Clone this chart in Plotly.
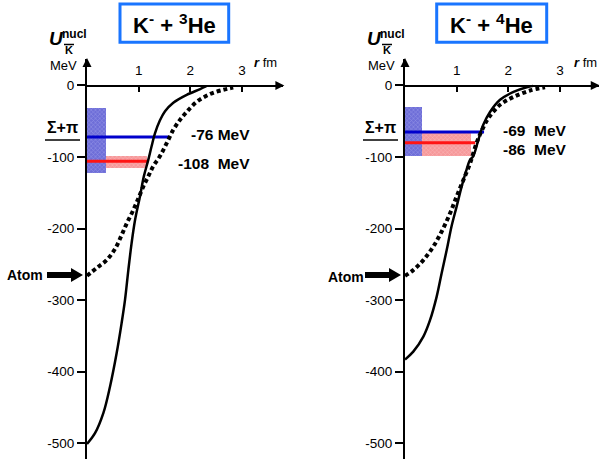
import plotly.graph_objects as go

# ---------------- data ----------------
# K- + 3He : nuclear potential (solid) and atomic-side potential (dotted)
he3_solid_r = [0, 0.155, 0.316, 0.445, 0.574, 0.67, 0.735, 0.8, 0.864, 0.93, 1.025, 1.1, 1.186,
               1.25, 1.315, 1.41, 1.51, 1.67, 1.93, 2.19, 2.31]
he3_solid_U = [-501, -486, -458, -421, -374, -332, -300, -258, -220, -188, -155, -127, -104,
               -85, -67, -49, -36, -24, -13, -5, -1]
he3_dot_r = [0, 0.187, 0.38, 0.545, 0.67, 0.768, 0.896, 0.993, 1.09, 1.186, 1.28, 1.41, 1.54,
             1.67, 1.8, 1.93, 2.12, 2.38, 2.64, 2.83]
he3_dot_U = [-266, -255, -244, -228, -209, -193, -174, -158, -141, -127, -113, -99, -81,
             -62, -48, -37, -23, -12, -6, -3]

# K- + 4He
he4_solid_r = [0, 0.16, 0.355, 0.484, 0.613, 0.71, 0.807, 0.9, 1.0, 1.097, 1.19, 1.258, 1.32,
               1.42, 1.515, 1.645, 1.84, 2.1, 2.355, 2.48]
he4_solid_U = [-383, -372, -351, -328, -295, -262, -230, -197, -169, -141, -118, -104, -99,
               -76, -55, -37, -20, -9, -2.5, -0.5]
he4_dot_r = [0, 0.16, 0.355, 0.548, 0.71, 0.87, 1.0, 1.13, 1.258, 1.387, 1.48, 1.61, 1.84,
             2.1, 2.42, 2.71]
he4_dot_U = [-266, -258, -244, -225, -204, -179, -155, -132, -109, -80, -64, -46, -27,
             -16, -7, -2.5]

# bound-state levels (line energy, line end radius) and labels
he3_level_E = [-72, -106]
he3_level_rmax = [1.57, 1.17]
he3_level_labels = ["-76 MeV", "-108\u00a0 MeV"]
he4_level_E = [-65, -80]
he4_level_rmax = [1.53, 1.36]
he4_level_labels = ["-69\u00a0 MeV", "-86\u00a0 MeV"]

# Sigma+pi box [r0, r1, U0, U1] and width band of the lower level
he3_sigma_box = [0, 0.36, -122, -31]
he3_width_band = [0.36, 1.16, -116, -98]
he4_sigma_box = [0, 0.33, -98, -30]
he4_width_band = [0.33, 1.28, -98, -64]

atom_U = -265
titles = ["K<sup>-</sup> + <sup>3</sup>He", "K<sup>-</sup> + <sup>4</sup>He"]
y_tickvals = [0, -100, -200, -300, -400, -500]
y_ticktext = ["0", "-100", "-200", "-300", "-400", "-500"]
x_tickvals = [1, 2, 3]
x_ticktext = ["1", "2", "3"]

# ---------------- layout helpers ----------------
W, H = 599, 462
FONT = "Liberation Sans, Arial, Helvetica, sans-serif"
BLUE = "#0000cc"
RED = "#ff1414"
SCALE_X = 51.67          # px per fm
Y0_PX, SCALE_Y = 85.5, 0.7155   # pixel of U=0, px per MeV


def px(x):
    return x / W


def py(y):
    return 1 - y / H


def paper_path(points):
    return "M " + " L ".join(f"{px(x):.5f},{py(y):.5f}" for x, y in points) + " Z"


fig = go.Figure()

panels = [
    dict(xa="x", ya="y", axis_px=87, xmax=3.8, solid=(he3_solid_r, he3_solid_U), dot=(he3_dot_r, he3_dot_U),
         E=he3_level_E, rmax=he3_level_rmax, labels=he3_level_labels, box=he3_sigma_box, band=he3_width_band,
         lab_right=252, lab_y=[135, 163.5], title=titles[0], title_box=(120, 228.7),
         rfm=(265, 62), atom=(25, 275)),
    dict(xa="x2", ya="y2", axis_px=405, xmax=3.75, solid=(he4_solid_r, he4_solid_U), dot=(he4_dot_r, he4_dot_U),
         E=he4_level_E, rmax=he4_level_rmax, labels=he4_level_labels, box=he4_sigma_box, band=he4_width_band,
         lab_right=569, lab_y=[130, 149], title=titles[1], title_box=(436.7, 546.7),
         rfm=(585, 62), atom=(346, 277)),
]

shapes = []
annotations = []


def band_trace(box, xa, ya, bg, fg):
    return go.Bar(x=[(box[0] + box[1]) / 2], y=[box[3] - box[2]], base=[box[2]], width=[box[1] - box[0]],
                  xaxis=xa, yaxis=ya, showlegend=False, hoverinfo="skip",
                  marker=dict(color=bg, line=dict(width=0),
                              pattern=dict(shape="x", fgcolor=fg, bgcolor=bg, size=3, solidity=0.35)))


for p in panels:
    xa, ya = p["xa"], p["ya"]
    a = p["axis_px"]
    # bands
    fig.add_trace(band_trace(p["band"], xa, ya, "#f6989a", "#ffd0d0"))
    fig.add_trace(band_trace(p["box"], xa, ya, "#6e6ed8", "#b4b4f2"))
    # level lines
    for E, rm, col in zip(p["E"], p["rmax"], [BLUE, RED]):
        fig.add_trace(go.Scatter(x=[0, rm], y=[E, E], mode="lines", xaxis=xa, yaxis=ya,
                                 line=dict(color=col, width=3), showlegend=False, hoverinfo="skip"))
    # curves
    fig.add_trace(go.Scatter(x=p["dot"][0], y=p["dot"][1], mode="lines", xaxis=xa, yaxis=ya,
                             line=dict(color="black", width=4, dash="4px,3px", shape="spline"),
                             showlegend=False, hoverinfo="skip"))
    fig.add_trace(go.Scatter(x=p["solid"][0], y=p["solid"][1], mode="lines", xaxis=xa, yaxis=ya,
                             line=dict(color="black", width=2.5, shape="spline"),
                             showlegend=False, hoverinfo="skip"))
    # axis arrow heads (paper-space triangles)
    tip_x = a + p["xmax"] * SCALE_X
    shapes.append(dict(type="path", xref="paper", yref="paper",
                       path=paper_path([(tip_x + 1, Y0_PX), (tip_x - 8, Y0_PX - 4.5), (tip_x - 8, Y0_PX + 4.5)]),
                       fillcolor="black", line=dict(width=0)))
    tip_y = Y0_PX - 37 * SCALE_Y
    shapes.append(dict(type="path", xref="paper", yref="paper",
                       path=paper_path([(a, tip_y - 1), (a - 4.5, tip_y + 8), (a + 4.5, tip_y + 8)]),
                       fillcolor="black", line=dict(width=0)))
    # atom block arrow
    ay = Y0_PX - atom_U * SCALE_Y
    tip = a - 4
    shapes.append(dict(type="path", xref="paper", yref="paper",
                       path=paper_path([(tip - 36, ay - 3), (tip - 12, ay - 3), (tip - 12, ay - 7),
                                        (tip, ay), (tip - 12, ay + 7), (tip - 12, ay + 3), (tip - 36, ay + 3)]),
                       fillcolor="black", line=dict(width=0)))
    annotations.append(dict(xref="paper", yref="paper", x=px(p["atom"][0]), y=py(p["atom"][1]),
                            text="<b>Atom</b>", showarrow=False, font=dict(size=14, family=FONT, color="black"),
                            xanchor="center", yanchor="middle"))
    # level labels
    for lab, ly in zip(p["labels"], p["lab_y"]):
        annotations.append(dict(xref="paper", yref="paper", x=px(p["lab_right"]), y=py(ly),
                                text="<b>" + lab + "</b>", showarrow=False,
                                font=dict(size=15.5, family=FONT, color="black"),
                                xanchor="right", yanchor="middle"))
    # Sigma + pi label with underline
    annotations.append(dict(xref="paper", yref="paper", x=px(a - 25), y=py(128), text="<b>Σ+π</b>",
                            showarrow=False, font=dict(size=16, family=FONT, color="black"),
                            xanchor="center", yanchor="middle"))
    shapes.append(dict(type="line", xref="paper", yref="paper", x0=px(a - 42), x1=px(a - 7),
                       y0=py(140), y1=py(140), line=dict(color="black", width=1.5)))
    # y-axis title: U with K-bar subscript and 'nucl' superscript
    annotations.append(dict(xref="paper", yref="paper", x=px(a - 30.5), y=py(38.5), text="<b><i>U</i></b>",
                            showarrow=False, font=dict(size=19, family=FONT, color="black"),
                            xanchor="center", yanchor="middle"))
    annotations.append(dict(xref="paper", yref="paper", x=px(a - 13), y=py(34), text="<b>nucl</b>",
                            showarrow=False, font=dict(size=12, family=FONT, color="black"),
                            xanchor="center", yanchor="middle"))
    annotations.append(dict(xref="paper", yref="paper", x=px(a - 18), y=py(50), text="<b>K</b>",
                            showarrow=False, font=dict(size=11, family=FONT, color="black"),
                            xanchor="center", yanchor="middle"))
    shapes.append(dict(type="line", xref="paper", yref="paper", x0=px(a - 23), x1=px(a - 13),
                       y0=py(44.5), y1=py(44.5), line=dict(color="black", width=1.5)))
    annotations.append(dict(xref="paper", yref="paper", x=px(a - 23.5), y=py(66), text="MeV",
                            showarrow=False, font=dict(size=13, family=FONT, color="black"),
                            xanchor="center", yanchor="middle"))
    # r fm
    annotations.append(dict(xref="paper", yref="paper", x=px(p["rfm"][0]), y=py(p["rfm"][1]),
                            text="<b><i>r</i></b> fm", showarrow=False,
                            font=dict(size=13, family=FONT, color="black"),
                            xanchor="center", yanchor="middle"))
    # title box
    tb = p["title_box"]
    shapes.append(dict(type="rect", xref="paper", yref="paper", x0=px(tb[0]), x1=px(tb[1]),
                       y0=py(42.3), y1=py(4), line=dict(color="#1a75ff", width=3), fillcolor="white"))
    annotations.append(dict(xref="paper", yref="paper", x=px((tb[0] + tb[1]) / 2), y=py(24),
                            text="<b>" + p["title"] + "</b>", showarrow=False,
                            font=dict(size=22, family=FONT, color="black"),
                            xanchor="center", yanchor="middle"))

Y_TOP, Y_BOT = Y0_PX - 37 * SCALE_Y, Y0_PX + 522 * SCALE_Y
y_dom = [py(Y_BOT), py(Y_TOP)]
y_range = [-522, 37]
x0_pos = py(Y0_PX)

axis_common = dict(showgrid=False, zeroline=False, showline=True, linecolor="black", linewidth=2)
xaxis_common = dict(anchor="free", position=x0_pos, side="top", ticks="inside", ticklen=5, tickwidth=1.5,
                    tickcolor="black", tickvals=x_tickvals, ticktext=x_ticktext, tickfont=dict(size=13.5),
                    ticklabelstandoff=4, **axis_common)
yaxis_common = dict(domain=y_dom, range=y_range, ticks="outside", ticklen=8, tickwidth=1.5,
                    tickcolor="black", tickvals=y_tickvals, ticktext=y_ticktext, tickfont=dict(size=13.5),
                    **axis_common)

fig.update_layout(
    width=W, height=H,
    margin=dict(l=0, r=0, t=0, b=0),
    paper_bgcolor="white", plot_bgcolor="rgba(0,0,0,0)",
    showlegend=False, barmode="overlay", bargap=0,
    font=dict(family=FONT, color="black"),
    xaxis=dict(domain=[px(87), px(87 + 3.8 * SCALE_X)], range=[0, 3.8], **xaxis_common),
    yaxis=dict(anchor="x", **yaxis_common),
    xaxis2=dict(domain=[px(405), px(405 + 3.75 * SCALE_X)], range=[0, 3.75], **xaxis_common),
    yaxis2=dict(anchor="x2", **yaxis_common),
    shapes=shapes,
    annotations=annotations,
)

fig.write_html("out.html", config={"displayModeBar": False},
               post_script="document.body.style.margin='0';")
